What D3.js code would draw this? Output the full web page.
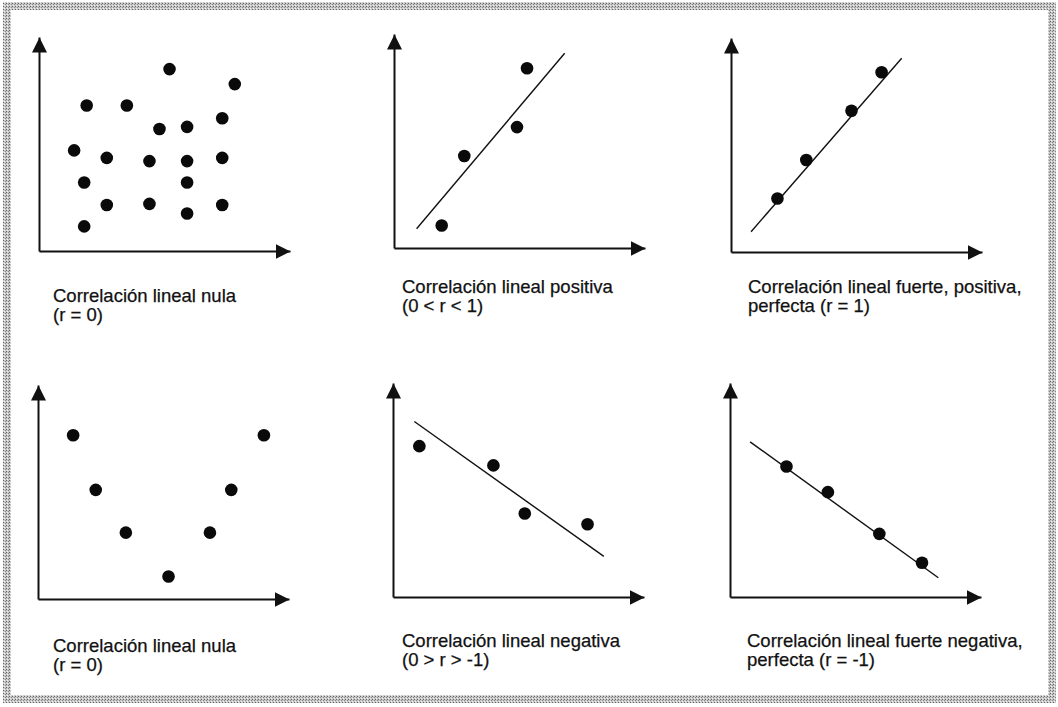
<!DOCTYPE html>
<html>
<head>
<meta charset="utf-8">
<script src="https://cdn.jsdelivr.net/npm/d3@7"></script>
<style>
  body { margin: 0; background: #fff; }
  svg { display: block; }
  .label { font-family: 'Liberation Sans', Arial, sans-serif; font-size: 18.5px; fill: #111; stroke: #111; stroke-width: 0.25px; }
  .axis path { stroke: #111; stroke-width: 2; }
  .axis text, .axis line { display: none; }
</style>
</head>
<body>
<div id="chart"></div>
<script>
(function() {
  // values, x and y both on a 0..10 scale
  let nullX = [5.2, 7.8, 1.9, 3.5, 4.8, 5.9, 7.3, 1.4, 2.7, 4.4, 5.9, 7.3, 1.8, 5.9, 2.7, 4.4, 5.9, 7.3, 1.8]
  let nullY = [8.5, 7.8, 6.8, 6.8, 5.7, 5.8, 6.2, 4.7, 4.35, 4.2, 4.2, 4.35, 3.2, 3.2, 2.15, 2.2, 1.75, 2.15, 1.15]

  let posX = [5.3, 4.9, 2.8, 1.9]
  let posY = [8.4, 5.65, 4.3, 1.05]
  let posLineX = [0.9, 6.8]
  let posLineY = [0.9, 9.1]

  let perfX = [6.0, 4.8, 3.0, 1.85]
  let perfY = [8.4, 6.6, 4.3, 2.5]
  let perfLineX = [0.8, 6.8]
  let perfLineY = [0.95, 9.05]

  let curveX = [1.4, 2.3, 3.5, 5.2, 6.85, 7.7, 9.0]
  let curveY = [7.65, 5.1, 3.1, 1.05, 3.1, 5.1, 7.65]

  let negX = [1.05, 4.0, 5.25, 7.75]
  let negY = [7.05, 6.15, 3.9, 3.4]
  let negLineX = [0.85, 8.4]
  let negLineY = [8.2, 1.9]

  let perfNegX = [2.25, 3.9, 5.95, 7.65]
  let perfNegY = [6.1, 4.9, 2.95, 1.6]
  let perfNegLineX = [0.8, 8.3]
  let perfNegLineY = [7.25, 0.9]

  let labels = [
    ['Correlación lineal nula', '(r = 0)'],
    ['Correlación lineal positiva', '(0 < r < 1)'],
    ['Correlación lineal fuerte, positiva,', 'perfecta (r = 1)'],
    ['Correlación lineal nula', '(r = 0)'],
    ['Correlación lineal negativa', '(0 > r > -1)'],
    ['Correlación lineal fuerte negativa,', 'perfecta (r = -1)']
  ]

  // layout: axis origin of each panel and where its caption starts
  let origins = [[39, 251], [394, 248], [731, 252], [38, 599], [393, 597], [730, 597]]
  let captions = [[53, 302], [402, 293], [748, 293], [53, 652], [402, 647], [747, 647]]

  let panels = [
    { xs: nullX, ys: nullY },
    { xs: posX, ys: posY, lx: posLineX, ly: posLineY },
    { xs: perfX, ys: perfY, lx: perfLineX, ly: perfLineY },
    { xs: curveX, ys: curveY },
    { xs: negX, ys: negY, lx: negLineX, ly: negLineY },
    { xs: perfNegX, ys: perfNegY, lx: perfNegLineX, ly: perfNegLineY }
  ]

  let width = 1058
  let height = 707
  let axisW = 251
  let axisH = 214

  let svg = d3.select('#chart')
    .append('svg')
    .attr('width', width)
    .attr('height', height)

  let defs = svg.append('defs')

  // halftone-ish texture for the frame
  let pat = defs.append('pattern')
    .attr('id', 'dots')
    .attr('width', 3)
    .attr('height', 3)
    .attr('patternUnits', 'userSpaceOnUse')
  pat.append('rect').attr('width', 3).attr('height', 3).attr('fill', '#c8c8c8')
  pat.append('rect').attr('width', 1).attr('height', 1).attr('fill', '#666')
  pat.append('rect').attr('x', 2).attr('y', 1).attr('width', 1).attr('height', 1).attr('fill', '#888')
  pat.append('rect').attr('x', 1).attr('y', 2).attr('width', 1).attr('height', 1).attr('fill', '#f2f2f2')

  defs.append('marker')
    .attr('id', 'arrow')
    .attr('markerUnits', 'userSpaceOnUse')
    .attr('viewBox', '0 0 16 16')
    .attr('markerWidth', 16)
    .attr('markerHeight', 16)
    .attr('refX', 15)
    .attr('refY', 8)
    .attr('orient', 'auto')
    .append('path')
    .attr('d', 'M0,0.5L15,8L0,15.5Z')
    .attr('fill', '#111')

  svg.append('rect')
    .attr('x', 7)
    .attr('y', 6)
    .attr('width', 1045)
    .attr('height', 693)
    .attr('fill', 'none')
    .attr('stroke', 'url(#dots)')
    .attr('stroke-width', 8)

  panels.forEach(function(p, i) {
    let [ox, oy] = origins[i]
    let g = svg.append('g')
      .attr('transform', 'translate(' + ox + ',' + (oy - axisH) + ')')

    let xPositionScale = d3.scaleLinear().domain([0, 10]).range([0, axisW])
    let yPositionScale = d3.scaleLinear().domain([0, 10]).range([axisH, 0])

    let xAxis = d3.axisBottom(xPositionScale).ticks(0).tickSizeOuter(0)
    g.append('g')
      .attr('class', 'axis x-axis')
      .attr('transform', 'translate(0,' + axisH + ')')
      .call(xAxis)

    let yAxis = d3.axisLeft(yPositionScale).ticks(0).tickSizeOuter(0)
    g.append('g')
      .attr('class', 'axis y-axis')
      .call(yAxis)

    g.selectAll('.axis path')
      .attr('marker-end', 'url(#arrow)')

    if (p.lx) {
      g.append('line')
        .attr('x1', xPositionScale(p.lx[0]))
        .attr('y1', yPositionScale(p.ly[0]))
        .attr('x2', xPositionScale(p.lx[1]))
        .attr('y2', yPositionScale(p.ly[1]))
        .attr('stroke', '#111')
        .attr('stroke-width', 1.4)
    }

    g.selectAll('circle')
      .data(p.xs)
      .enter()
      .append('circle')
      .attr('r', 6.3)
      .attr('cx', d => xPositionScale(d))
      .attr('cy', (d, j) => yPositionScale(p.ys[j]))
      .attr('fill', '#0a0a0a')

    let [tx, ty] = captions[i]
    let text = svg.append('text')
      .attr('class', 'label')
      .attr('x', tx)
      .attr('y', ty)
    labels[i].forEach(function(line, j) {
      text.append('tspan')
        .attr('x', tx)
        .attr('dy', j === 0 ? 0 : 19)
        .text(line)
    })
  })
})()
</script>
</body>
</html>
